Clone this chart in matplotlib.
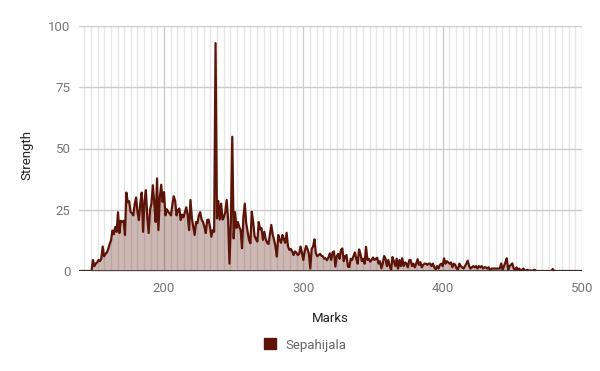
import numpy as np
import matplotlib
matplotlib.use("Agg")
import matplotlib.pyplot as plt
from matplotlib.patches import Patch

plt.rcParams['font.family'] = ['Roboto', 'DejaVu Sans']

series_name = "Sepahijala"
x_start = 139
strength = [
    0, 0, 0, 0, 0, 0, 0, 0, 0, 0,                      # 139-148
    4.5, 2, 3, 3.5, 4.5, 4, 5, 10, 6, 7,                # 149-158
    7.5, 9, 11, 12.5, 16.5, 15, 18, 16, 24, 15.5,       # 159-168
    20.5, 20, 20.5, 14.7, 32, 28, 28.5, 24.2, 23.5, 22.7,  # 169-178
    27.5, 30, 24, 20.8, 27.6, 32, 16, 28.6, 33, 22,     # 179-188
    15.5, 25, 27.5, 35, 28, 20, 37.8, 16.7, 30, 35.2,   # 189-198
    28.2, 32.2, 22.7, 25.2, 24.2, 23.5, 22.7, 27, 30.5, 28.6,  # 199-208
    22.7, 24.8, 25.5, 20.8, 23, 21.9, 24, 26, 22.7, 16.7,  # 209-218
    29, 21.5, 18, 14.7, 20, 19.5, 22.7, 24, 21, 20,     # 219-228
    18, 15.5, 20.8, 21, 18, 14, 16.7, 16, 93, 21.5,     # 229-238
    28.6, 21, 27.5, 21, 22, 24, 29, 21, 3, 20,          # 239-248
    54.8, 13.3, 24, 17.6, 20, 18, 16.7, 9.3, 22, 27.5,  # 249-258
    19.5, 16, 12.7, 11.3, 24.2, 20, 14.3, 13, 12, 20,   # 259-268
    17, 17.5, 12.7, 16, 13, 11.5, 11, 15, 18.8, 15,     # 269-278
    12.7, 10, 5.9, 14.7, 12.7, 11.5, 14.7, 13, 11.5, 15.6,  # 279-288
    10, 8.6, 9, 8, 6.5, 8, 7.5, 6.5, 7, 10,             # 289-298
    7.5, 4.5, 8, 10.2, 9, 7, 1, 9, 10, 12.9,            # 299-308
    7.2, 6, 6.5, 7, 6.2, 6, 5, 5.2, 4.4, 5.5,           # 309-318
    7.2, 4.5, 7.6, 8, 1.8, 6, 7, 5, 8.6, 9.2,           # 319-328
    4, 6, 6.5, 1.8, 1.6, 5, 4.5, 6, 7.6, 5,             # 329-338
    3, 8.8, 7, 4, 5, 3, 9.9, 4.5, 5, 3.8,               # 339-348
    4.5, 5.5, 4.5, 5, 5.4, 3, 4, 1.1, 3, 6.1,           # 349-358
    5, 2, 4.5, 2, 0.4, 5.7, 4, 2, 5, 1,                 # 359-368
    4.5, 2, 5.2, 2, 3.5, 3, 1.5, 4.4, 4.5, 2,           # 369-378
    3, 1.5, 3, 4.8, 2.5, 3.6, 1.5, 2.5, 3, 3,           # 379-388
    2.5, 3, 3, 2, 3, 1.5, 0.7, 2, 1, 2.5,               # 389-398
    3, 2, 5.2, 3, 4, 3.5, 3, 3.5, 1.5, 3,               # 399-408
    2.5, 1, 0.7, 3, 2, 1.5, 1, 2, 3, 4.2,               # 409-418
    2, 1, 1.5, 2, 1.5, 2, 1, 2, 1.5, 2,                 # 419-428
    1, 1.5, 1.5, 1, 1.5, 0.3, 1, 1, 1, 1,               # 429-438
    1, 1, 1, 3.1, 0.3, 2, 3.5, 5.2, 0.5, 2,             # 439-448
    2.5, 3.1, 1, 0.3, 1.5, 0.5, 1, 0, 0.5, 1,           # 449-458
    0, 0.3, 0.5, 0, 0.3, 0, 0.3, 0.5, 0, 0,             # 459-468
    0, 0, 0, 0, 0, 0, 0, 0, 0, 0,                       # 469-478
    0.8, 0, 0, 0, 0, 0, 0, 0, 0, 0,                     # 479-488
    0, 0, 0, 0, 0, 0, 0, 0, 0, 0,                       # 489-498
    0, 0,                                               # 499-500
]
x_ticks = [200, 300, 400, 500]
y_ticks = [0, 25, 50, 75, 100]
x_label = "Marks"
y_label = "Strength"

marks = np.arange(x_start, x_start + len(strength))
vals = np.array(strength, dtype=float)

color = "#5c1408"

fig = plt.figure(figsize=(6, 3.71), dpi=100)
ax = fig.add_axes([79 / 600, 1 - 271 / 371, (582 - 79) / 600, (271 - 26) / 371])

ax.fill_between(marks, 0, vals, color=color, alpha=0.3, linewidth=0, zorder=2)
ax.plot(marks, vals, color=color, linewidth=1.6, zorder=3, solid_joinstyle='round')

ax.set_xlim(139, 500)
ax.set_ylim(0, 100)
ax.set_xticks(x_ticks)
ax.set_yticks(y_ticks)
minor = [200 + k * 100 / 21 for k in range(-13, 64)]
minor = [m for m in minor if 139.5 < m < 499.5 and all(abs(m - t) > 0.5 for t in x_ticks)]
ax.set_xticks(minor, minor=True)

ax.set_axisbelow(True)
ax.grid(which='major', axis='both', color='#cccccc', linewidth=1.0)
ax.grid(which='minor', axis='x', color='#e6e6e6', linewidth=1.0)
ax.axhline(0, color='#333333', linewidth=1.2, zorder=4)

for s in ax.spines.values():
    s.set_visible(False)
ax.tick_params(which='both', length=0)
ax.tick_params(axis='x', pad=8, labelsize=9.5, labelcolor='#777777')
ax.tick_params(axis='y', pad=6, labelsize=9.5, labelcolor='#777777')

fig.text(27 / 600, 1 - 155 / 371, y_label, rotation=90, ha='center', va='center',
         fontsize=9.5, color='#222222')
fig.text(330 / 600, 1 - 318 / 371, x_label, ha='center', va='center',
         fontsize=9.5, color='#222222')

leg = fig.legend(handles=[Patch(facecolor=color, edgecolor=color)], labels=[series_name],
                 loc='center', bbox_to_anchor=(305 / 600, 1 - 345 / 371), frameon=False,
                 handlelength=0.9, handleheight=0.9, handletextpad=0.7, fontsize=9.5)
for t in leg.get_texts():
    t.set_color('#666666')

fig.savefig("out.png", dpi=100)
